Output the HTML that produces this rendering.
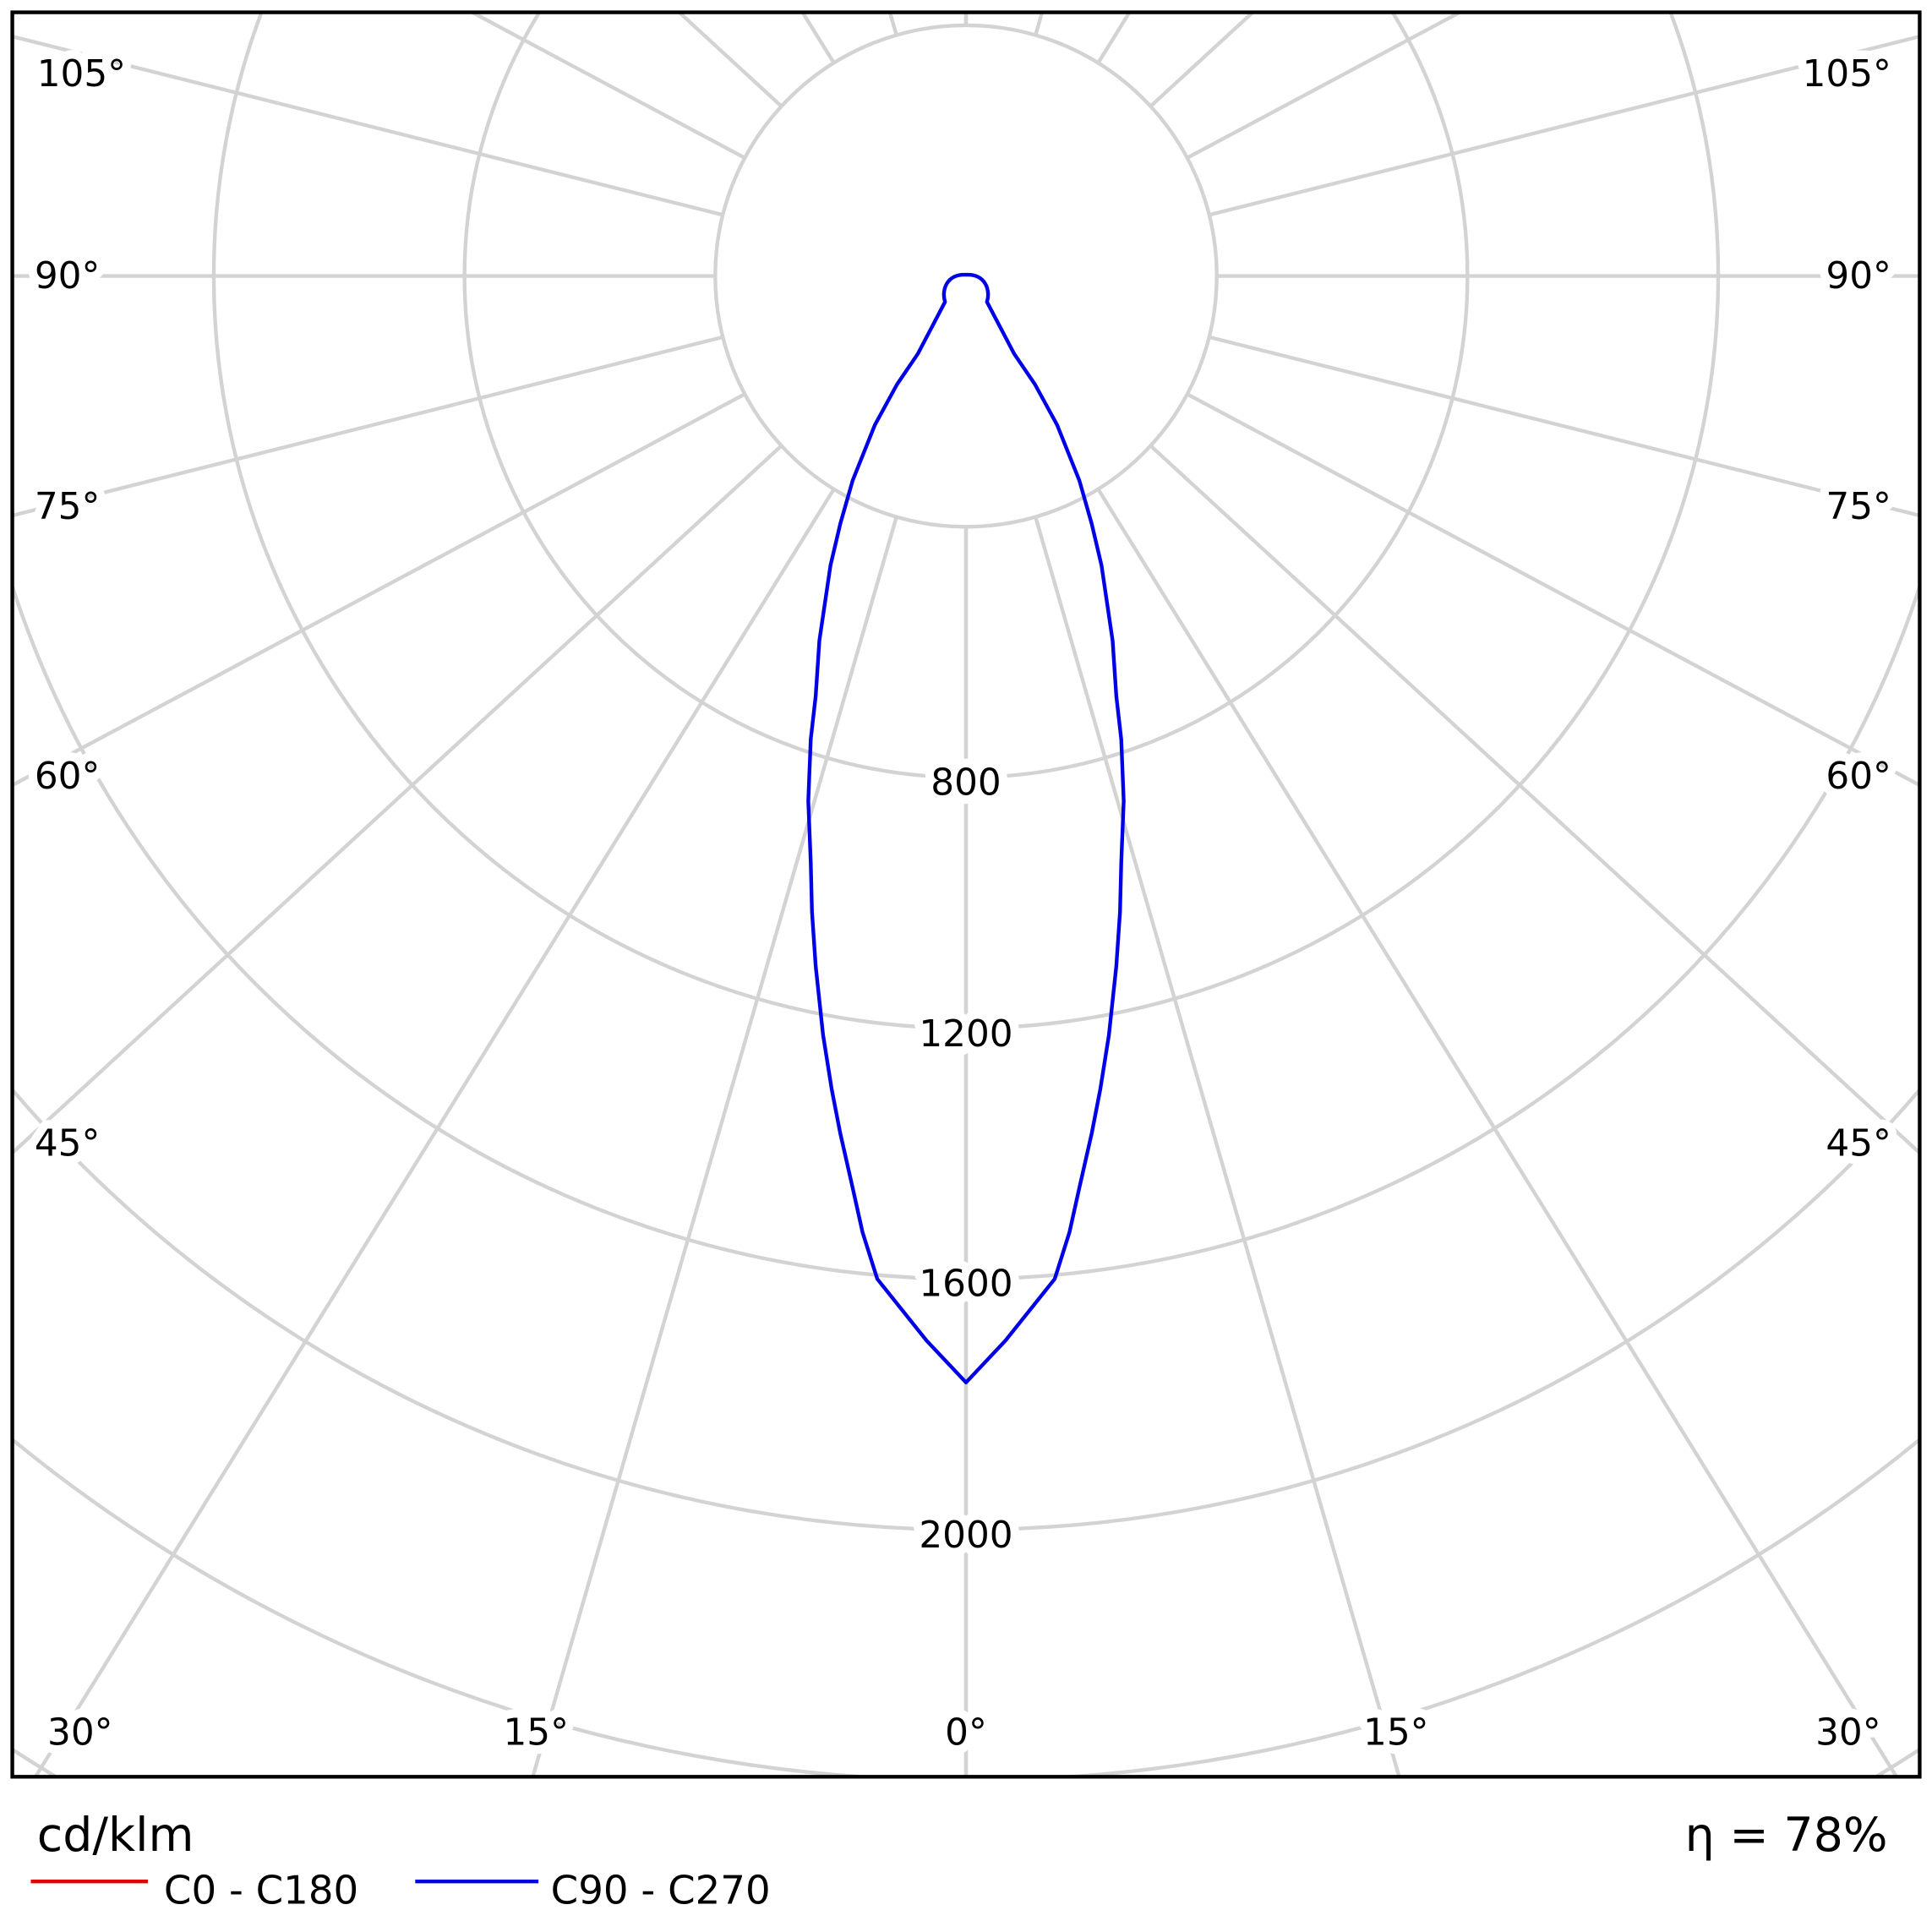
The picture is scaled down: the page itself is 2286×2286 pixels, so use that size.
<!DOCTYPE html>
<html><head><style>html,body{margin:0;padding:0;background:#fff;overflow:hidden;width:2286px;height:2286px}svg{display:block}</style></head>
<body>
<svg width="2286" height="2286" viewBox="0 0 1568 1568" xmlns="http://www.w3.org/2000/svg" font-family="'DejaVu Sans','Liberation Sans',sans-serif">
<defs><clipPath id="c"><rect x="10" y="10" width="1548" height="1432"/></clipPath></defs>
<rect width="1568" height="1568" fill="#fff"/>
<g clip-path="url(#c)" stroke="#d3d3d3" stroke-width="3" fill="none">
<circle cx="784" cy="224" r="203.5"/>
<circle cx="784" cy="224" r="407"/>
<circle cx="784" cy="224" r="610.5"/>
<circle cx="784" cy="224" r="814"/>
<circle cx="784" cy="224" r="1017.5"/>
<circle cx="784" cy="224" r="1221"/>
<circle cx="784" cy="224" r="1424.5"/>
<circle cx="784" cy="224" r="1628"/>
<g id="rl">
<line x1="784" y1="427.5" x2="784" y2="3000"/>
<line x1="784" y1="427.5" x2="784" y2="3000" transform="rotate(16.1 784 224)"/>
<line x1="784" y1="427.5" x2="784" y2="3000" transform="rotate(31.8 784 224)"/>
<line x1="784" y1="427.5" x2="784" y2="3000" transform="rotate(47.4 784 224)"/>
<line x1="784" y1="427.5" x2="784" y2="3000" transform="rotate(61.9 784 224)"/>
<line x1="784" y1="427.5" x2="784" y2="3000" transform="rotate(75.9 784 224)"/>
<line x1="784" y1="427.5" x2="784" y2="3000" transform="rotate(90 784 224)"/>
<line x1="784" y1="427.5" x2="784" y2="3000" transform="rotate(104.1 784 224)"/>
<line x1="784" y1="427.5" x2="784" y2="3000" transform="rotate(118.1 784 224)"/>
<line x1="784" y1="427.5" x2="784" y2="3000" transform="rotate(132.6 784 224)"/>
<line x1="784" y1="427.5" x2="784" y2="3000" transform="rotate(148.2 784 224)"/>
<line x1="784" y1="427.5" x2="784" y2="3000" transform="rotate(163.9 784 224)"/>
<line x1="784" y1="427.5" x2="784" y2="3000" transform="rotate(180 784 224)"/>
</g>
<use href="#rl" transform="translate(1568 0) scale(-1 1)"/>
</g>
<g font-size="30" fill="#000" stroke="#fff" stroke-width="14" paint-order="stroke" stroke-linejoin="round">
<text x="30" y="70">105°</text><text x="1535" y="70" text-anchor="end">105°</text>
<text x="28" y="234">90°</text><text x="1535" y="234" text-anchor="end">90°</text>
<text x="28" y="421">75°</text><text x="1535" y="421" text-anchor="end">75°</text>
<text x="28" y="640">60°</text><text x="1535" y="640" text-anchor="end">60°</text>
<text x="28" y="938">45°</text><text x="1535" y="938" text-anchor="end">45°</text>
<text x="65" y="1416" text-anchor="middle">30°</text>
<text x="435" y="1416" text-anchor="middle">15°</text>
<text x="784" y="1416" text-anchor="middle">0°</text>
<text x="1133" y="1416" text-anchor="middle">15°</text>
<text x="1500" y="1416" text-anchor="middle">30°</text>
<text x="784" y="645" text-anchor="middle">800</text>
<text x="784" y="849" text-anchor="middle">1200</text>
<text x="784" y="1052" text-anchor="middle">1600</text>
<text x="784" y="1256" text-anchor="middle">2000</text>
</g>
<path d="M784,1122 L752,1088 L712,1038 L700,1000 L692,964 L682,920 L675,884 L668,840 L662,784 L659,740 L658,700 L656,650 L658,600 L662,565 L665,520 L674,459 L682,425 L692,390 L710,345 L728,312 L745,287 L767,245 C764,236 768,222 784,223 C800,222 804,236 801,245 L823,287 L840,312 L858,345 L876,390 L886,425 L894,459 L903,520 L906,565 L910,600 L912,650 L910,700 L909,740 L906,784 L900,840 L893,884 L886,920 L876,964 L868,1000 L856,1038 L816,1088 Z" fill="none" stroke="#0000e6" stroke-width="3" stroke-linejoin="round"/>
<rect x="10" y="10" width="1548" height="1432" fill="none" stroke="#000" stroke-width="3"/>
<text x="30" y="1502" font-size="38">cd/klm</text>
<text x="1532" y="1502" font-size="38" text-anchor="end">η = 78%</text>
<line x1="25" y1="1527" x2="120" y2="1527" stroke="#e60000" stroke-width="3"/>
<text x="133" y="1545" font-size="32">C0 - C180</text>
<line x1="337" y1="1527" x2="437" y2="1527" stroke="#0000e6" stroke-width="3"/>
<text x="447" y="1545" font-size="32">C90 - C270</text>
</svg>
</body></html>
